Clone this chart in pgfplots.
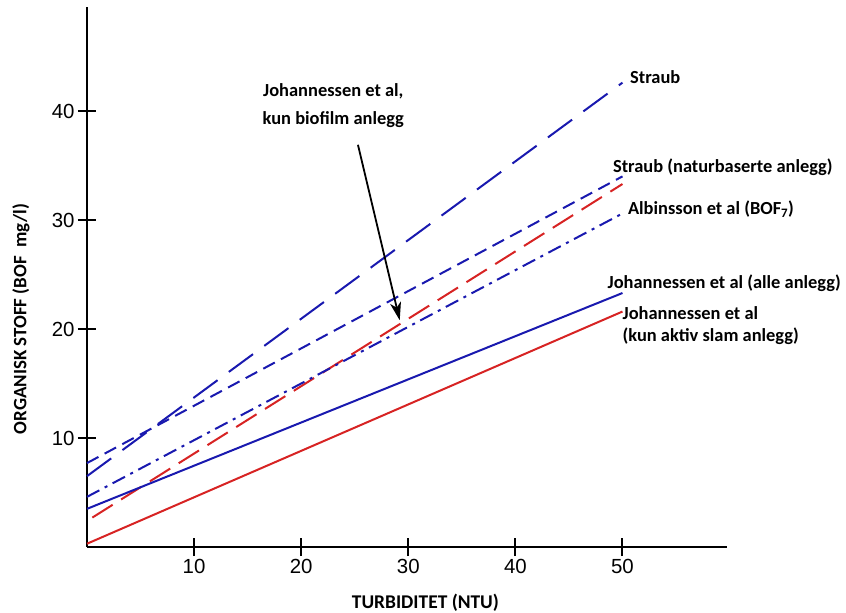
\documentclass[border=0pt]{standalone}
\usepackage{pgfplots}
\pgfplotsset{compat=1.18}
\usepackage{fontspec}
\setmainfont{Liberation Sans}
\newfontfamily\calfont{Carlito}
\usetikzlibrary{arrows.meta}
\definecolor{lblue}{RGB}{25,25,175}
\definecolor{lred}{RGB}{215,35,35}
\begin{document}
\begin{tikzpicture}
\useasboundingbox (-87bp,-66bp) rectangle (759bp,547bp);
\begin{axis}[
  scale only axis, width=640bp, height=540bp,
  xmin=0, xmax=59.76, ymin=0, ymax=49.54,
  axis lines=left,
  axis line style={line width=2.2bp, -, black},
  xtick={10,20,30,40,50}, ytick={10,20,30,40},
  tick align=center, major tick length=18bp,
  tick style={line width=2bp, black},
  ticklabel style={font=\fontsize{20.5}{24}\selectfont},
  /pgf/number format/assume math mode=true,
  clip=false,
  every axis plot/.append style={line width=2bp, no marks},
]
\addplot[lblue, dash pattern=on 30bp off 14bp] coordinates {(0,6.5) (50,42.6)};
\addplot[lblue, dash pattern=on 13bp off 7bp] coordinates {(0,7.7) (50,34.0)};
\addplot[lred, dash pattern=on 24bp off 10bp] coordinates {(0.5,2.7) (50,33.3)};
\addplot[lblue, dash pattern=on 14bp off 6bp on 3bp off 6bp] coordinates {(0,4.6) (50,30.6)};
\addplot[lblue] coordinates {(0,3.5) (50,23.3)};
\addplot[lred] coordinates {(0,0.3) (50,21.6)};

\draw[line width=1.8bp, -{Stealth[length=18bp,width=11bp,inset=5bp]}] (axis cs:25.3,36.9) -- (axis cs:29.2,20.8);

\begin{scope}[every node/.style={font=\calfont\bfseries\fontsize{18.5}{28}\selectfont, inner sep=0pt}]
\node[anchor=west] at (axis cs:50.7,43.1) {Straub};
\node[anchor=west] at (axis cs:49.1,34.8) {Straub (naturbaserte anlegg)};
\node[anchor=west] at (axis cs:50.5,31.0) {Albinsson et al (BOF\textsubscript{7})};
\node[anchor=west] at (axis cs:48.6,24.2) {Johannessen et al (alle anlegg)};
\node[anchor=west] at (axis cs:50.0,21.5) {Johannessen et al};
\node[anchor=west] at (axis cs:50.0,19.3) {(kun aktiv slam anlegg)};
\node[align=center] at (axis cs:23,40.5) {Johannessen et al,\\kun biofilm anlegg};
\node[font=\calfont\bfseries\fontsize{19.5}{24}\selectfont] at ([yshift=-56bp]axis cs:31.6,0) {TURBIDITET (NTU)};
\node[rotate=90, font=\calfont\bfseries\fontsize{19}{24}\selectfont] at ([xshift=-66bp]axis cs:0,20.9) {ORGANISK STOFF (BOF\ \ mg/l)};
\end{scope}
\end{axis}
\end{tikzpicture}
\end{document}
